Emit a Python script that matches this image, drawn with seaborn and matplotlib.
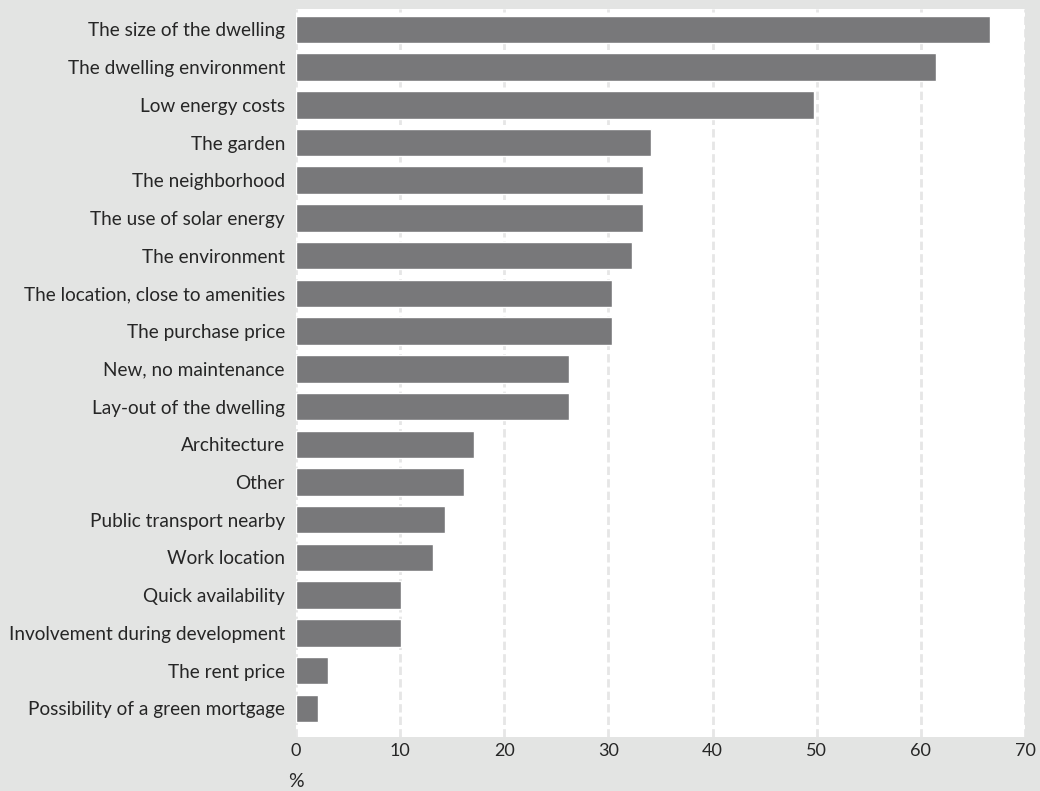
import matplotlib
matplotlib.use("Agg")
import matplotlib.pyplot as plt
import pandas as pd
import seaborn as sns

# Values (percent of respondents)
reasons = [
    "The size of the dwelling",
    "The dwelling environment",
    "Low energy costs",
    "The garden",
    "The neighborhood",
    "The use of solar energy",
    "The environment",
    "The location, close to amenities",
    "The purchase price",
    "New, no maintenance",
    "Lay-out of the dwelling",
    "Architecture",
    "Other",
    "Public transport nearby",
    "Work location",
    "Quick availability",
    "Involvement during development",
    "The rent price",
    "Possibility of a green mortgage",
]
percent = [66.6, 61.5, 49.7, 34.1, 33.3, 33.3, 32.3, 30.3, 30.3, 26.2, 26.2,
           17.1, 16.1, 14.3, 13.2, 10.1, 10.1, 3.1, 2.1]
x_ticks = [0, 10, 20, 30, 40, 50, 60, 70]

df = pd.DataFrame({"reason": reasons, "percent": percent})

sns.set_style("white")
plt.rcParams["font.family"] = ["Lato", "DejaVu Sans"]

bg = "#e3e4e3"
fig = plt.figure(figsize=(10.4, 7.91), dpi=100, facecolor=bg)
ax = fig.add_axes([296 / 1040, 1 - 737 / 791, (1025 - 296) / 1040, (737 - 9) / 791])
ax.set_facecolor("white")

sns.barplot(data=df, x="percent", y="reason", orient="h", color="#78787a",
            saturation=1, width=0.73, ax=ax)

ax.set_xlim(0, 70)
ax.set_ylim(18.76, -0.54)
ax.set_xticks(x_ticks)
ax.set_xticklabels([str(t) for t in x_ticks], fontsize=13)
ax.tick_params(axis="both", length=0)
ax.tick_params(axis="x", pad=4)
ax.tick_params(axis="y", pad=8, labelsize=13.7)

ax.xaxis.grid(True, color="#e6e6e6", linestyle=(0, (3, 1.5)), linewidth=2)
ax.set_axisbelow(True)
for s in ax.spines.values():
    s.set_visible(False)

ax.set_ylabel("")
ax.set_xlabel("%", fontsize=14)
ax.xaxis.set_label_coords(0, -0.05)
ax.xaxis.label.set_horizontalalignment("center")

fig.savefig("out.png", dpi=100, facecolor=bg)
